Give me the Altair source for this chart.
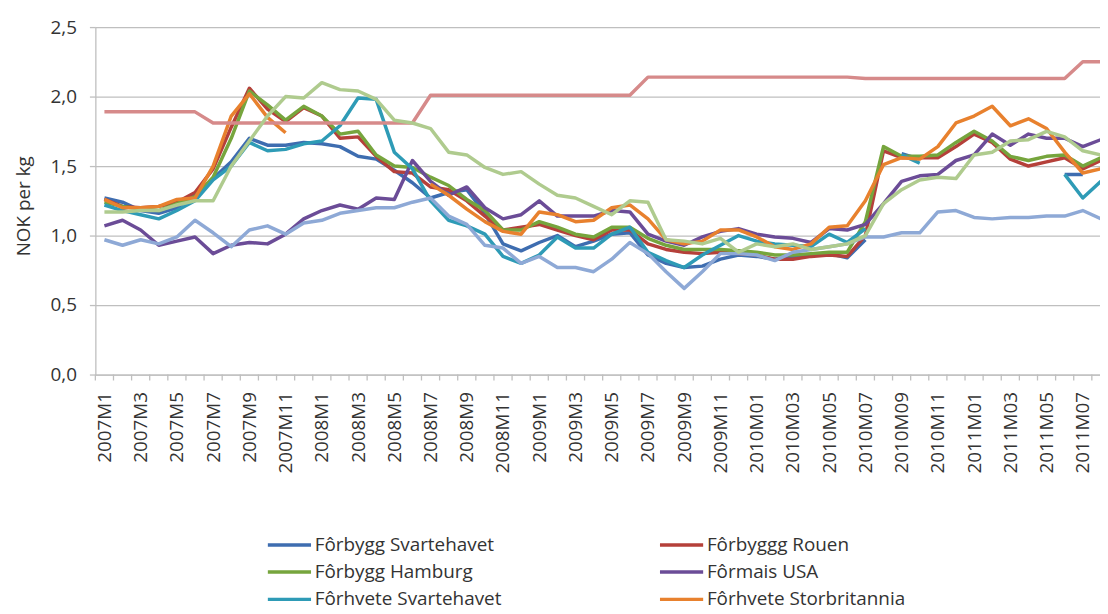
import json
import altair as alt
import pandas as pd
import numpy as np

months = [
    "2007M1", "2007M2", "2007M3", "2007M4", "2007M5", "2007M6", "2007M7", "2007M8", "2007M9", "2007M10", "2007M11", "2007M12",
    "2008M1", "2008M2", "2008M3", "2008M4", "2008M5", "2008M6", "2008M7", "2008M8", "2008M9", "2008M10", "2008M11", "2008M12",
    "2009M1", "2009M2", "2009M3", "2009M4", "2009M5", "2009M6", "2009M7", "2009M8", "2009M9", "2009M10", "2009M11", "2009M12",
    "2010M01", "2010M02", "2010M03", "2010M04", "2010M05", "2010M06", "2010M07", "2010M08", "2010M09", "2010M10", "2010M11", "2010M12",
    "2011M01", "2011M02", "2011M03", "2011M04", "2011M05", "2011M06", "2011M07", "2011M08",
]

N = None
forbygg_svartehavet = [
    1.27, 1.24, 1.18, 1.16, 1.20, 1.29, 1.41, 1.53, 1.70, 1.65, 1.65, 1.67, 1.66, 1.64,
    1.57, 1.55, 1.47, 1.38, 1.27, 1.31, 1.33, 1.16, 0.94, 0.89, 0.95, 1.00, 0.92, 0.96,
    1.01, 1.02, 0.86, 0.80, 0.77, 0.78, 0.83, 0.86, 0.85, 0.83, 0.85, 0.86, 0.87, 0.84,
    0.97, N, 1.59, 1.55, N, N, N, N, N, N, N, 1.44, 1.44, N,
]
forbyggg_rouen = [
    1.26, 1.21, 1.20, 1.21, 1.24, 1.31, 1.48, 1.78, 2.06, 1.91, 1.82, 1.92, 1.86, 1.70,
    1.71, 1.57, 1.46, 1.45, 1.35, 1.33, 1.25, 1.14, 1.04, 1.06, 1.08, 1.04, 1.00, 0.97,
    1.04, 1.04, 0.94, 0.90, 0.88, 0.87, 0.88, 0.87, 0.86, 0.83, 0.83, 0.85, 0.86, 0.85,
    1.00, 1.61, 1.56, 1.56, 1.56, 1.64, 1.73, 1.67, 1.55, 1.50, 1.53, 1.56, 1.48, 1.54,
]
forbygg_hamburg = [
    1.24, 1.21, 1.19, 1.18, 1.23, 1.28, 1.42, 1.70, 2.04, 1.94, 1.83, 1.93, 1.86, 1.73,
    1.75, 1.58, 1.50, 1.49, 1.42, 1.36, 1.26, 1.18, 1.04, 1.04, 1.10, 1.06, 1.01, 0.99,
    1.06, 1.06, 0.98, 0.93, 0.90, 0.90, 0.90, 0.89, 0.88, 0.86, 0.86, 0.87, 0.88, 0.88,
    1.10, 1.64, 1.57, 1.57, 1.58, 1.67, 1.75, 1.68, 1.57, 1.54, 1.57, 1.58, 1.50, 1.56,
]
formais_usa = [
    1.07, 1.11, 1.04, 0.93, 0.96, 0.99, 0.87, 0.93, 0.95, 0.94, 1.01, 1.12, 1.18, 1.22,
    1.19, 1.27, 1.26, 1.54, 1.39, 1.29, 1.35, 1.20, 1.12, 1.15, 1.25, 1.14, 1.14, 1.14,
    1.18, 1.17, 1.01, 0.96, 0.93, 0.99, 1.03, 1.05, 1.01, 0.99, 0.98, 0.95, 1.05, 1.04,
    1.08, 1.23, 1.39, 1.43, 1.44, 1.54, 1.58, 1.73, 1.65, 1.73, 1.70, 1.70, 1.64, 1.69,
]
forhvete_svartehavet = [
    1.22, 1.18, 1.15, 1.12, 1.18, 1.25, 1.40, 1.50, 1.67, 1.61, 1.62, 1.66, 1.68, 1.79,
    1.99, 1.98, 1.60, 1.48, 1.25, 1.11, 1.07, 1.01, 0.85, 0.80, 0.86, 0.99, 0.91, 0.91,
    1.01, 1.06, 0.88, 0.82, 0.77, 0.86, 0.93, 1.00, 0.96, 0.94, 0.93, 0.92, 1.01, 0.95,
    1.05, N, 1.58, 1.52, N, N, N, N, N, N, N, 1.44, 1.27, 1.39,
]
forhvete_storbritannia = [
    1.26, 1.20, 1.20, 1.21, 1.26, 1.27, 1.50, 1.86, 2.02, 1.85, 1.74, N, N, N,
    N, N, N, N, 1.37, 1.29, 1.19, 1.10, 1.03, 1.01, 1.17, 1.15, 1.10, 1.11,
    1.20, 1.22, 1.12, 0.97, 0.94, 0.96, 1.04, 1.04, 0.99, 0.92, 0.90, 0.94, 1.06, 1.07,
    1.25, 1.51, 1.56, 1.55, 1.64, 1.81, 1.86, 1.93, 1.79, 1.84, 1.77, 1.60, 1.45, 1.48,
]
serie_lysebla = [
    0.97, 0.93, 0.97, 0.94, 0.99, 1.11, 1.02, 0.92, 1.04, 1.07, 1.01, 1.09, 1.11, 1.16,
    1.18, 1.20, 1.20, 1.24, 1.27, 1.14, 1.08, 0.93, 0.91, 0.80, 0.85, 0.77, 0.77, 0.74,
    0.83, 0.95, 0.87, 0.74, 0.62, 0.74, 0.87, 0.87, 0.86, 0.82, 0.88, 0.90, 0.92, 0.94,
    0.99, 0.99, 1.02, 1.02, 1.17, 1.18, 1.13, 1.12, 1.13, 1.13, 1.14, 1.14, 1.18, 1.12,
]
serie_rosa = [
    1.89, 1.89, 1.89, 1.89, 1.89, 1.89, 1.81, 1.81, 1.81, 1.81, 1.81, 1.81, 1.81, 1.81,
    1.81, 1.81, 1.81, 1.81, 2.01, 2.01, 2.01, 2.01, 2.01, 2.01, 2.01, 2.01, 2.01, 2.01,
    2.01, 2.01, 2.14, 2.14, 2.14, 2.14, 2.14, 2.14, 2.14, 2.14, 2.14, 2.14, 2.14, 2.14,
    2.13, 2.13, 2.13, 2.13, 2.13, 2.13, 2.13, 2.13, 2.13, 2.13, 2.13, 2.13, 2.25, 2.25,
]
serie_lysegronn = [
    1.17, 1.17, 1.18, 1.18, 1.22, 1.25, 1.25, 1.50, 1.68, 1.86, 2.00, 1.99, 2.10, 2.05,
    2.04, 1.98, 1.83, 1.81, 1.77, 1.60, 1.58, 1.49, 1.44, 1.46, 1.37, 1.29, 1.27, 1.21,
    1.15, 1.25, 1.24, 0.97, 0.96, 0.94, 0.98, 0.88, 0.94, 0.92, 0.94, 0.90, 0.92, 0.94,
    1.00, 1.23, 1.33, 1.40, 1.42, 1.41, 1.58, 1.60, 1.68, 1.69, 1.75, 1.71, 1.61, 1.58,
]

series_names = [
    "Fôrbygg Svartehavet", "Fôrbyggg Rouen", "Fôrbygg Hamburg", "Fôrmais USA",
    "Fôrhvete Svartehavet", "Fôrhvete Storbritannia", "Serie 7", "Serie 8", "Serie 9",
]
series_values = [
    forbygg_svartehavet, forbyggg_rouen, forbygg_hamburg, formais_usa,
    forhvete_svartehavet, forhvete_storbritannia, serie_lysebla, serie_rosa, serie_lysegronn,
]
series_colors = [
    "#3E6DB0", "#B5403A", "#76A53D", "#6B4C97", "#2E9BB6", "#E8812E",
    "#8EA9D6", "#D68A8A", "#AFCB8E",
]
# legend is laid out column by column: list entries so rows read pairwise
legend_shown = [
    "Fôrbygg Svartehavet", "Fôrbygg Hamburg", "Fôrhvete Svartehavet",
    "Fôrbyggg Rouen", "Fôrmais USA", "Fôrhvete Storbritannia",
]

rows = []
for name, vals in zip(series_names, series_values):
    for i, (m, v) in enumerate(zip(months, vals)):
        rows.append({"month": m, "idx": i, "series": name, "value": (np.nan if v is None else v)})
df = pd.DataFrame(rows)

ticks_df = pd.DataFrame({"pos": np.arange(len(months) + 1) - 0.5})

FONT = "Open Sans"
TXT = "#333333"
GRID = "#BFBFBF"

label_expr = json.dumps(months) + "[datum.value]"

x_axis = alt.Axis(
    values=list(range(0, len(months), 2)),
    labelExpr=label_expr,
    labelAngle=270,
    labelFont=FONT, labelFontSize=19, labelColor=TXT,
    labelPadding=17, labelOverlap=False, labelFlush=False,
    ticks=False, tickSize=0, grid=False,
    domain=True, domainColor=GRID, domainWidth=1.3,
    title=None,
)
x_scale = alt.Scale(domain=[-0.5, 54.95], nice=False, zero=False)

lines = alt.Chart(df).mark_line(
    strokeWidth=3.5, strokeJoin="round", invalid="break-paths-filter-domains"
).encode(
    x=alt.X("idx:Q", scale=x_scale, axis=x_axis),
    y=alt.Y(
        "value:Q",
        scale=alt.Scale(domain=[0, 2.5], nice=False),
        axis=alt.Axis(
            values=[0, 0.5, 1.0, 1.5, 2.0, 2.5],
            labelExpr="replace(format(datum.value, '.1f'), '.', ',')",
            labelFont=FONT, labelFontSize=19, labelColor=TXT, labelPadding=13,
            tickSize=6, tickColor=GRID, tickWidth=1.3,
            grid=True, gridColor=GRID, gridWidth=1.3,
            domain=True, domainColor=GRID, domainWidth=1.3,
            title="NOK per kg", titleFont=FONT, titleFontSize=19, titleFontWeight="normal",
            titleColor=TXT, titleAngle=270, titleX=-72, titleY=180,
            titleBaseline="middle", titleAlign="center",
        ),
    ),
    color=alt.Color(
        "series:N",
        scale=alt.Scale(domain=series_names, range=series_colors),
        legend=alt.Legend(
            values=legend_shown, title=None, orient="none", legendX=179, legendY=505,
            columns=2, columnPadding=151, rowPadding=0.5, padding=0,
            symbolType="M-1.5,0H1.5", symbolSize=841, symbolStrokeWidth=3.5,
            labelFont=FONT, labelFontSize=19, labelColor=TXT, labelOffset=9, labelLimit=400,
        ),
    ),
    detail="series:N",
)

ticks = alt.Chart(ticks_df).mark_rule(color=GRID, strokeWidth=1.3).encode(
    x=alt.X("pos:Q", scale=x_scale, axis=x_axis),
    y=alt.value(350),
    y2=alt.value(356),
)

chart = alt.layer(ticks, lines).properties(
    width=1012,
    height=350,
    autosize=alt.AutoSizeParams(type="none"),
    padding={"left": 88, "top": 17, "right": 0, "bottom": 239},
).configure_view(stroke=None)

chart.save("out.html", embed_options={"renderer": "svg", "actions": False})
